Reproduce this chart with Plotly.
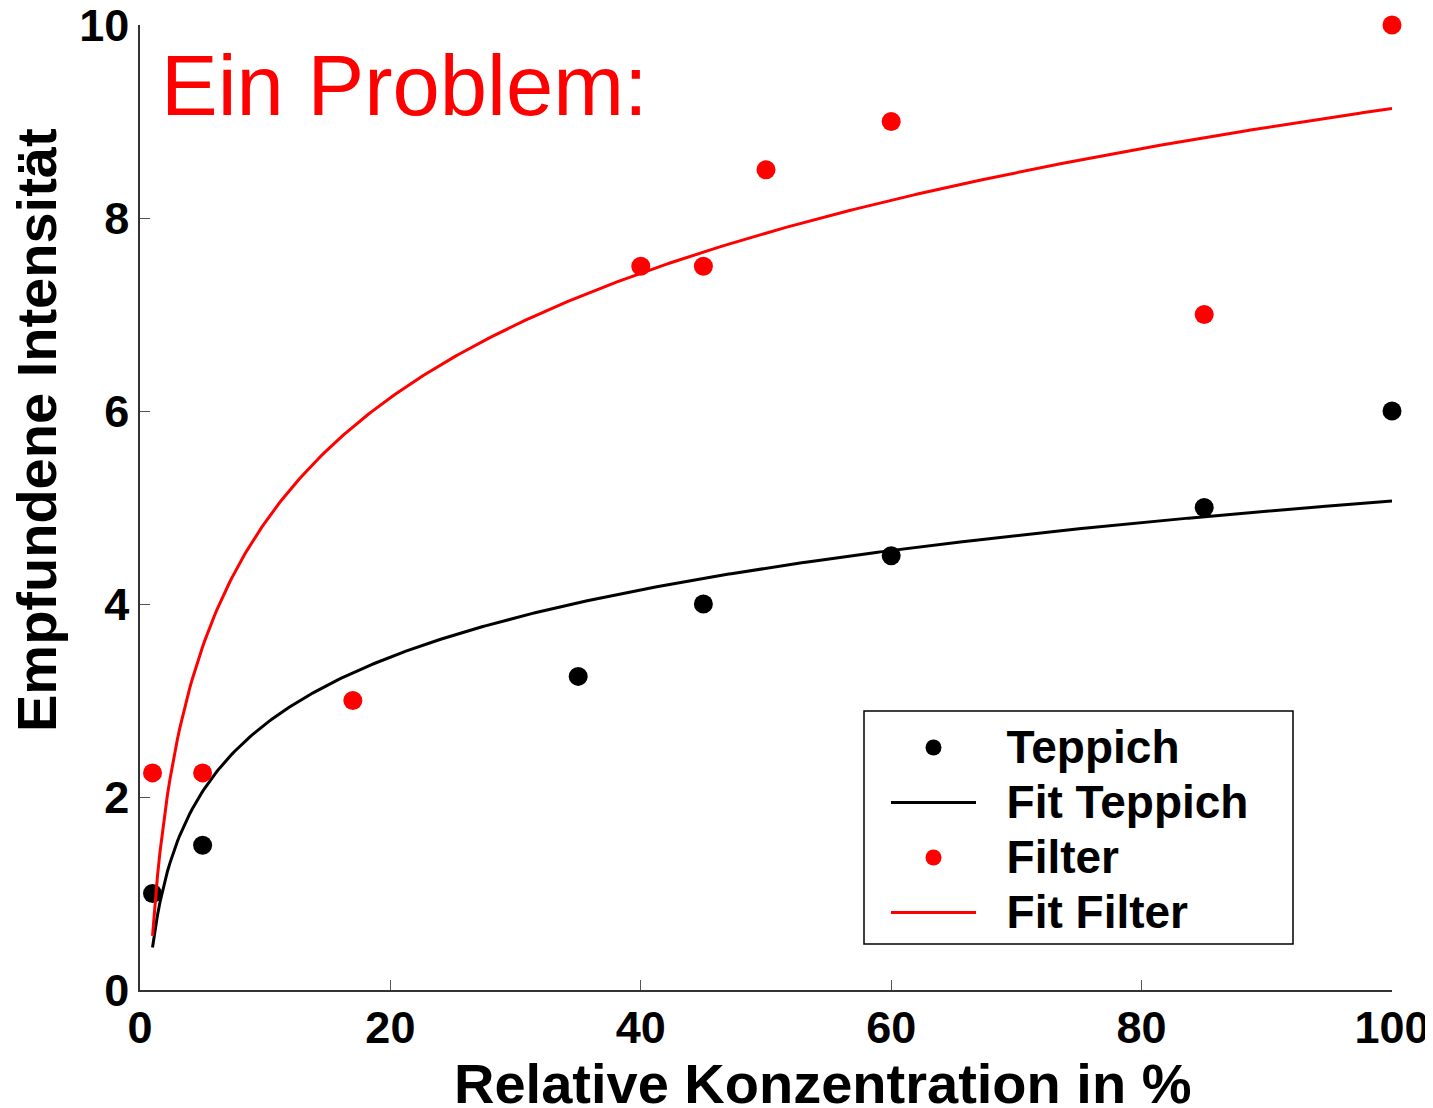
import numpy as np
import plotly.graph_objects as go

# Data
teppich_x = [1, 5, 35, 45, 60, 85, 100]
teppich_y = [1.0, 1.5, 3.25, 4.0, 4.5, 5.0, 6.0]
filter_x = [1, 5, 17, 40, 45, 50, 60, 85, 100]
filter_y = [2.25, 2.25, 3.0, 7.5, 7.5, 8.5, 9.0, 7.0, 10.0]

# logarithmic fit parameters y = a + b*ln(x)
fit_teppich = (0.44, 1.005)
fit_filter = (0.56, 1.862)
fit_range = (1, 100)

x_ticks = [0, 20, 40, 60, 80, 100]
y_ticks = [0, 2, 4, 6, 8, 10]

FONT = "Liberation Sans, Arial, sans-serif"


def legend_label(s):
    return '<span style="font-size:46px">\u00a0\u00a0' + s + '</span>'


xf = np.linspace(fit_range[0], fit_range[1], 500)
yt = fit_teppich[0] + fit_teppich[1] * np.log(xf)
yf = fit_filter[0] + fit_filter[1] * np.log(xf)

fig = go.Figure()
fig.add_trace(go.Scatter(x=teppich_x, y=teppich_y, mode="markers", name=legend_label("Teppich"),
                         marker=dict(color="black", size=19), cliponaxis=False))
fig.add_trace(go.Scatter(x=xf, y=yt, mode="lines", name=legend_label("Fit Teppich"),
                         line=dict(color="black", width=3)))
fig.add_trace(go.Scatter(x=filter_x, y=filter_y, mode="markers", name=legend_label("Filter"),
                         marker=dict(color="#ff0000", size=19), cliponaxis=False))
fig.add_trace(go.Scatter(x=xf, y=yf, mode="lines", name=legend_label("Fit Filter"),
                         line=dict(color="#ff0000", width=3)))

axis_common = dict(showgrid=False, zeroline=False, showline=True, linecolor="#333333",
                   linewidth=1.5, ticks="inside", ticklen=10, tickcolor="#555555",
                   tickwidth=1.2, mirror=False, automargin=False, ticklabeloverflow="allow",
                   tickfont=dict(family=FONT, size=45, color="black", weight="bold"))

fig.update_xaxes(range=[0, 100], tickvals=x_ticks, ticktext=[str(v) for v in x_ticks],
                 ticklabelstandoff=-3, **axis_common)
fig.update_yaxes(range=[0, 10], tickvals=y_ticks, ticktext=[str(v) for v in y_ticks],
                 ticklabelstandoff=0, **axis_common)

# the page places the figure at an 8px body offset; plot area 140..1392 x 25..990 on the page
OFF = 8
W, H = 1433 - OFF, 1108 - OFF
PL, PR, PT, PB = 140 - OFF, 1392 - OFF, 25 - OFF, 990 - OFF


def px_x(p):
    return (p - OFF - PL) / (PR - PL)


def px_y(p):
    return (PB - (p - OFF)) / (PB - PT)


title_font = dict(family=FONT, size=56, color="black", weight="bold")
fig.add_annotation(text="Relative Konzentration in %", xref="paper", yref="paper",
                   x=px_x(822), y=px_y(1083), xanchor="center", yanchor="middle",
                   showarrow=False, font=title_font)
fig.add_annotation(text="Empfundene Intensität", xref="paper", yref="paper",
                   x=px_x(36), y=px_y(430), xanchor="center", yanchor="middle",
                   textangle=-90, showarrow=False, font=title_font)

fig.add_annotation(text="Ein Problem:", xref="paper", yref="paper", x=px_x(159), y=px_y(36),
                   xanchor="left", yanchor="top", showarrow=False,
                   font=dict(family=FONT, size=85, color="#ff0000"))

fig.add_shape(type="rect", xref="paper", yref="paper",
              x0=px_x(864), x1=px_x(1293), y0=px_y(944), y1=px_y(711),
              line=dict(color="black", width=1.5), fillcolor="white", layer="below")

fig.update_layout(
    width=W, height=H,
    margin=dict(l=PL, r=W - PR, t=PT, b=H - PB),
    paper_bgcolor="white", plot_bgcolor="white",
    showlegend=True,
    legend=dict(x=px_x(886), y=px_y(715), xanchor="left", yanchor="top",
                bgcolor="rgba(0,0,0,0)", borderwidth=0,
                font=dict(family=FONT, size=40, color="black", weight="bold"),
                itemwidth=85, tracegroupgap=0),
)

fig.write_html("out.html")
